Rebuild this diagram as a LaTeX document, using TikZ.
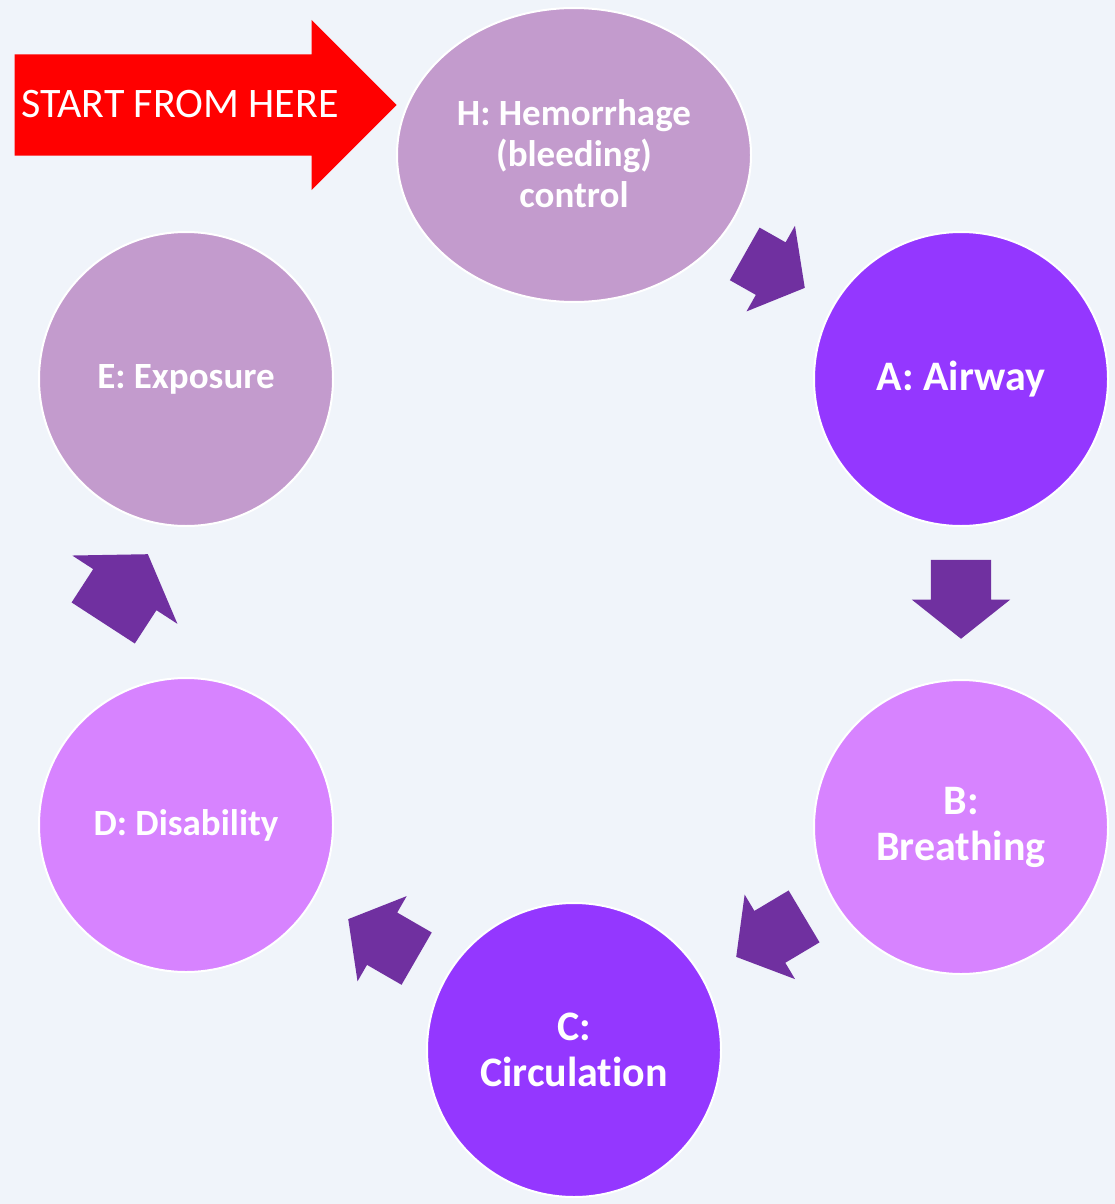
\documentclass[tikz,border=0pt]{standalone}
\usepackage{fontspec}
\setmainfont{Carlito}[Ligatures=NoCommon]
\usetikzlibrary{shapes.arrows,shapes.geometric}

\definecolor{paper}{RGB}{240,244,250}
\definecolor{lilac}{RGB}{195,155,205}
\definecolor{violet}{RGB}{148,55,255}
\definecolor{orchid}{RGB}{215,131,255}
\definecolor{plum}{RGB}{112,48,160}

\tikzset{
  stage/.style={circle,draw=white,line width=2pt,minimum size=294pt,inner sep=0pt,
    text=white,align=center,font=\bfseries\fontsize{42}{46}\selectfont},
  small/.style={font=\bfseries\fontsize{37}{41}\selectfont},
  link/.style={single arrow,fill=plum,inner xsep=0pt,inner ysep=30pt,anchor=tip,
    minimum height=79pt,single arrow head extend=19pt,single arrow tip angle=103}
}

\begin{document}
\begin{tikzpicture}[x=1pt,y=-1pt]
      \fill[paper] (0,0) rectangle (1115,1204);

      \node[ellipse,draw=white,line width=2pt,minimum width=354pt,minimum height=294pt,fill=lilac] (H) at (574,155) {};
      \node[text=white,align=center,small] (Htext) at (574,154) {H: Hemorrhage\\(bleeding)\\control};
      \node[stage,fill=violet] (A) at (961,379) {A: Airway};
      \node[stage,fill=orchid] (B) at (961,827) {B:\\Breathing};
      \node[stage,fill=violet] (C) at (574,1050) {C:\\Circulation};
      \node[stage,small,fill=orchid] (D) at (186,825) {D: Disability};
      \node[stage,small,fill=lilac] (E) at (186,379) {E: Exposure};

      \node[link,rotate=-29.5,minimum height=69pt] (HA) at (805,288) {};
      \node[link,rotate=-90] (AB) at (961,639) {};
      \node[link,rotate=210.8] (BC) at (736,957) {};
      \node[link,rotate=150] (CD) at (348,919) {};
      \node[link,rotate=57,inner ysep=37.5pt,minimum height=82pt,
        single arrow head extend=25pt,single arrow tip angle=112] (DE) at (148,554) {};

      \node[single arrow,fill=red,inner xsep=0pt,inner ysep=50.5pt,anchor=tip,minimum height=382pt,
        single arrow head extend=34.5pt,single arrow tip angle=90] (start) at (397,105) {};
      \node[text=white,font=\fontsize{42}{42}\selectfont] (label) at (180,104) {START FROM HERE};
    \end{tikzpicture}
\end{document}
